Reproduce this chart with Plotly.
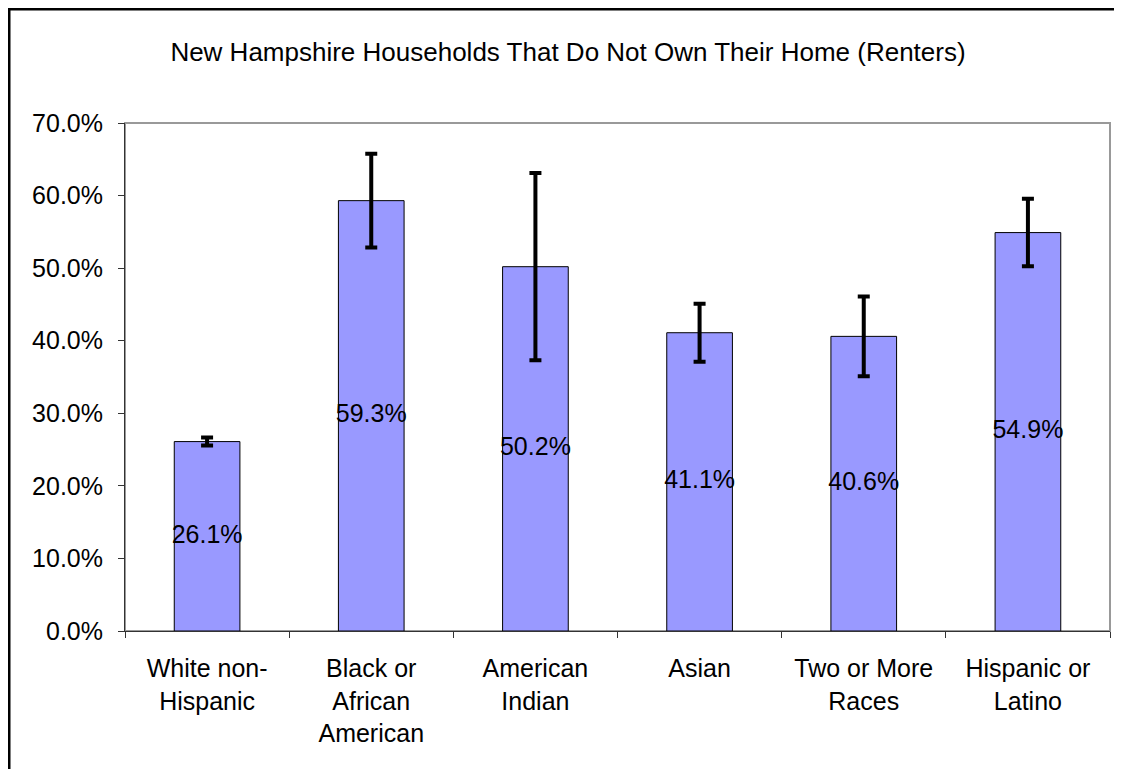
import plotly.graph_objects as go

categories = ["White non-<br>Hispanic", "Black or<br>African<br>American", "American<br>Indian",
              "Asian", "Two or More<br>Races", "Hispanic or<br>Latino"]
values = [26.1, 59.3, 50.2, 41.1, 40.6, 54.9]
errors = [0.55, 6.45, 12.9, 4.0, 5.5, 4.65]
labels = [f"{v:.1f}%" for v in values]
yticks = [0, 10, 20, 30, 40, 50, 60, 70]
yticklabels = [f"{t:.1f}%" for t in yticks]

FONT = "Liberation Sans, Arial, sans-serif"

# page body has an 8px default margin; figure is sized/margined to compensate
W, H = 1114, 761
L, R, T, B = 117, 12, 115, 138
pw, ph = W - L - R, H - T - B

fig = go.Figure()
fig.add_trace(go.Bar(
    x=categories, y=values,
    marker=dict(color="#9999FF", line=dict(color="black", width=1)),
    error_y=dict(type="data", array=errors, visible=True, color="black", thickness=4, width=6),
    hoverinfo="x+y",
))
fig.add_trace(go.Scatter(
    x=categories, y=[v / 2 for v in values], mode="text", text=labels,
    textposition="middle center",
    textfont=dict(family=FONT, size=25, color="black"),
    hoverinfo="skip", cliponaxis=False,
))

fig.update_layout(
    width=W, height=H,
    margin=dict(l=L, r=R, t=T, b=B, autoexpand=False),
    paper_bgcolor="white", plot_bgcolor="white",
    showlegend=False, bargap=0.6,
    title=dict(text="New Hampshire Households That Do Not Own Their Home (Renters)",
               x=(568 - 8) / W, xanchor="center", y=1 - 44 / H, yanchor="middle", yref="container",
               font=dict(family=FONT, size=26, color="black")),
    font=dict(family=FONT, color="black"),
    xaxis=dict(
        showline=True, linecolor="#333333", linewidth=1,
        ticks="outside", ticklen=6, tickcolor="#333333", tickson="boundaries",
        tickfont=dict(family=FONT, size=25, color="black"),
        ticklabelstandoff=15,
        showgrid=False, automargin=False,
    ),
    yaxis=dict(
        range=[0, 70], tickvals=yticks, ticktext=yticklabels,
        showline=True, linecolor="#333333", linewidth=1,
        ticks="outside", ticklen=6, tickcolor="#333333",
        tickfont=dict(family=FONT, size=25, color="black"),
        ticklabelstandoff=10,
        showgrid=False, zeroline=False, automargin=False,
    ),
    shapes=[
        dict(type="rect", xref="paper", yref="paper", x0=0, x1=1, y0=0, y1=1,
             line=dict(color="#999999", width=2), layer="below"),
        dict(type="rect", xref="paper", yref="paper",
             x0=(1.0 - L) / pw, x1=(W + 40 - L) / pw,
             y0=-(B + 40) / ph, y1=(ph + T - 1.0) / ph,
             line=dict(color="black", width=3), layer="below"),
    ],
)

fig.write_html("out.html")
